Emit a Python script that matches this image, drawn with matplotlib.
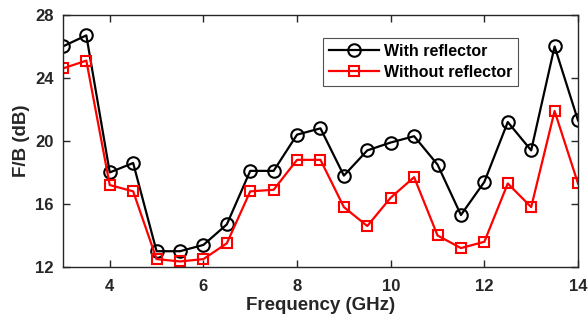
import matplotlib
matplotlib.use("Agg")
import matplotlib.pyplot as plt

freq = [3, 3.5, 4, 4.5, 5, 5.5, 6, 6.5, 7, 7.5, 8, 8.5, 9, 9.5, 10, 10.5, 11, 11.5, 12, 12.5, 13, 13.5, 14]
with_reflector = [26.0, 26.7, 18.0, 18.6, 13.0, 13.0, 13.4, 14.7, 18.1, 18.1, 20.4, 20.8, 17.8, 19.4, 19.9, 20.3, 18.5, 15.3, 17.4, 21.2, 19.4, 26.0, 21.3]
without_reflector = [24.6, 25.1, 17.2, 16.8, 12.5, 12.35, 12.5, 13.5, 16.8, 16.9, 18.8, 18.8, 15.8, 14.6, 16.4, 17.7, 14.0, 13.2, 13.6, 17.3, 15.8, 21.9, 17.3]
xticks = [4, 6, 8, 10, 12, 14]
yticks = [12, 16, 20, 24, 28]

plt.rcParams['font.family'] = ['Liberation Sans', 'DejaVu Sans']
plt.rcParams['font.weight'] = 'bold'

fig = plt.figure(figsize=(5.88, 3.24), dpi=100)
ax = fig.add_axes([0.107, 0.176, 0.876, 0.778])

ax.plot(freq, with_reflector, color='black', lw=1.6, marker='o', markersize=9,
        markerfacecolor='none', markeredgewidth=1.5, label='With reflector')
ax.plot(freq, without_reflector, color='#ff0000', lw=1.6, marker='s', markersize=7.5,
        markerfacecolor='none', markeredgewidth=1.5, label='Without reflector')

ax.set_xlim(3, 14)
ax.set_ylim(12, 28)
ax.set_xticks(xticks)
ax.set_yticks(yticks)
ax.tick_params(direction='in', top=True, right=True, length=5, width=1,
               labelsize=12, colors='#262626')
ax.tick_params(axis='x', pad=9)
ax.tick_params(axis='y', pad=6.5)
for lab in ax.get_xticklabels() + ax.get_yticklabels():
    lab.set_fontweight('bold')
for s in ax.spines.values():
    s.set_linewidth(1.0)
    s.set_color('#262626')

ax.set_xlabel('Frequency (GHz)', fontsize=13.5, fontweight='bold', color='#262626', labelpad=2)
ax.set_ylabel('F/B (dB)', fontsize=13.5, fontweight='bold', color='#262626', labelpad=4)

leg = ax.legend(loc='upper left', bbox_to_anchor=(0.505, 0.91), fontsize=11.5,
                frameon=True, fancybox=False, edgecolor='#262626', handlelength=3.1,
                borderpad=0.4, labelspacing=0.35, handletextpad=0.3, borderaxespad=0)
leg.get_frame().set_linewidth(0.8)
for t in leg.get_texts():
    t.set_fontweight('bold')

fig.savefig('out.png', dpi=100)
